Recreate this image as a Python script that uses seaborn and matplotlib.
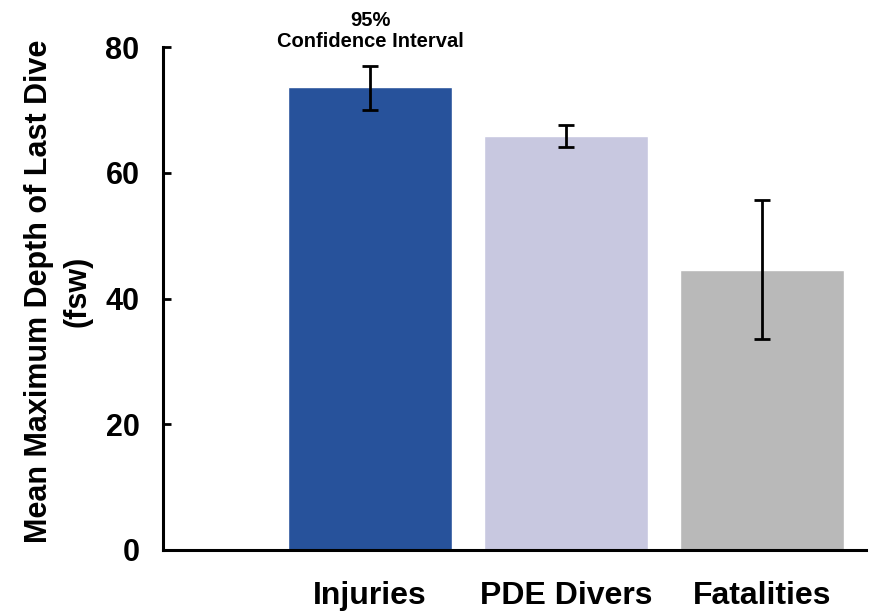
import numpy as np
import pandas as pd
import matplotlib
matplotlib.use("Agg")
import matplotlib.pyplot as plt
import seaborn as sns

# Chart values
groups = ["Injuries", "PDE Divers", "Fatalities"]
mean_depth = [73.7, 65.9, 44.6]
ci_low = [70.0, 64.1, 33.6]
ci_high = [77.0, 67.6, 55.6]
bar_colors = ["#27529B", "#C8C8E0", "#B9B9B9"]

df = pd.DataFrame({"group": groups, "depth": mean_depth})

sns.set_style("white")
plt.rcParams["font.family"] = ["Liberation Sans", "DejaVu Sans"]
plt.rcParams["font.weight"] = "bold"
plt.rcParams["text.color"] = "black"
plt.rcParams["axes.labelcolor"] = "black"
plt.rcParams["ytick.direction"] = "in"

fig = plt.figure(figsize=(8.88, 6.13), dpi=100)
ax = fig.add_axes([0.1836, 0.1028, 0.7914, 0.8205])

sns.barplot(data=df, x="group", y="depth", hue="group", palette=bar_colors,
            legend=False, width=0.84, saturation=1, ax=ax)

# 95% confidence intervals
yerr = np.array([np.array(mean_depth) - np.array(ci_low),
                 np.array(ci_high) - np.array(mean_depth)])
ax.errorbar(range(len(groups)), mean_depth, yerr=yerr, fmt="none",
            ecolor="black", elinewidth=2, capsize=5.5, capthick=2)

ax.text(0, 79.4, "95%\nConfidence Interval", ha="center", va="bottom",
        fontsize=14.5, fontweight="bold", linespacing=1.1, clip_on=False,
        color="black")

ax.set_ylim(0, 80)
ax.set_xlim(-1.056, 2.53)
ax.set_yticks([0, 20, 40, 60, 80])
ax.set_xlabel("")
ax.set_ylabel("Mean Maximum Depth of Last Dive\n(fsw)", fontsize=22,
              fontweight="bold", linespacing=1.35, color="black")
ax.yaxis.set_label_coords(-0.101, 0.515)

sns.despine(ax=ax)
for side in ["left", "bottom"]:
    ax.spines[side].set_linewidth(2.2)
    ax.spines[side].set_color("black")

ax.tick_params(axis="y", left=True, direction="in", length=6, width=2, pad=17,
               labelsize=22, colors="black")
ax.tick_params(axis="x", length=0, pad=22, labelsize=23, colors="black")
for lab in ax.get_xticklabels() + ax.get_yticklabels():
    lab.set_fontweight("bold")

fig.savefig("out.png", dpi=100)
